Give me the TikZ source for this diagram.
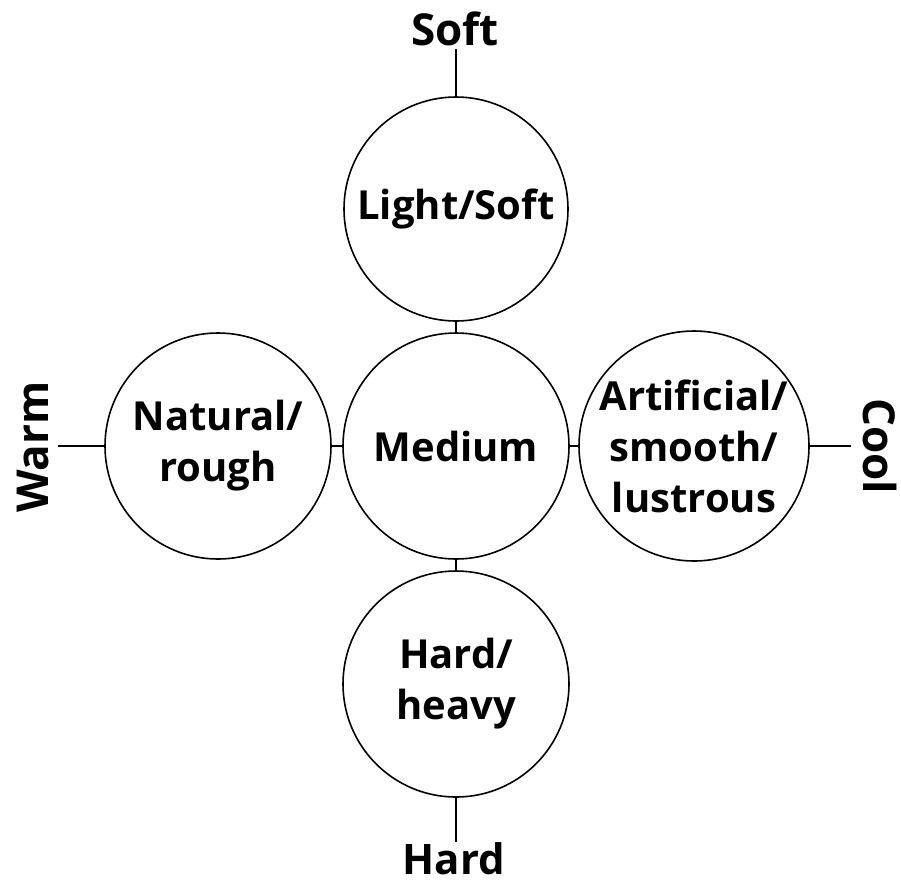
\documentclass[tikz,border=0pt]{standalone}
\usepackage{fontspec}
\setmainfont{Open Sans}
\begin{document}
\begin{tikzpicture}[x=1pt,y=-1pt,
  circ/.style={circle,draw=black,line width=1.6pt,minimum size=#1,inner sep=0pt,align=center,
    font=\fontsize{40}{51}\selectfont\bfseries},
  lbl/.style={inner sep=0pt,font=\fontsize{44}{50}\selectfont\bfseries},
  conn/.style={line width=1.6pt}]
\useasboundingbox (0,0) rectangle (901,884);
\node[circ=224pt] (top) at (456,209) {Light/Soft};
\node[circ=226pt] (mid) at (456,446) {Medium};
\node[circ=226pt] (bot) at (456,684) {Hard/\\heavy};
\node[circ=226pt] (lft) at (218,446) {Natural/\\rough};
\node[circ=226pt] (rgt) at (694,446) {Artificial/\\smooth/\\lustrous};
\node[lbl] (soft) at (455,29) {Soft};
\node[lbl,font=\fontsize{42}{50}\selectfont\bfseries] (hard) at (454,859) {Hard};
\node[lbl,rotate=90] (warm) at (33,447) {Warm};
\node[lbl,rotate=-90] (cool) at (880,446) {Cool};
\coordinate (softend) at (456,49);
\coordinate (hardend) at (456,842);
\coordinate (warmend) at (58,446);
\coordinate (coolend) at (851,446);
\draw[conn] (softend) -- (top.north);
\draw[conn] (bot.south) -- (hardend);
\draw[conn] (warmend) -- (lft.west);
\draw[conn] (rgt.east) -- (coolend);
\draw[conn] (top.south) -- (mid.north);
\draw[conn] (mid.south) -- (bot.north);
\draw[conn] (lft.east) -- (mid.west);
\draw[conn] (mid.east) -- (rgt.west);
\end{tikzpicture}
\end{document}
